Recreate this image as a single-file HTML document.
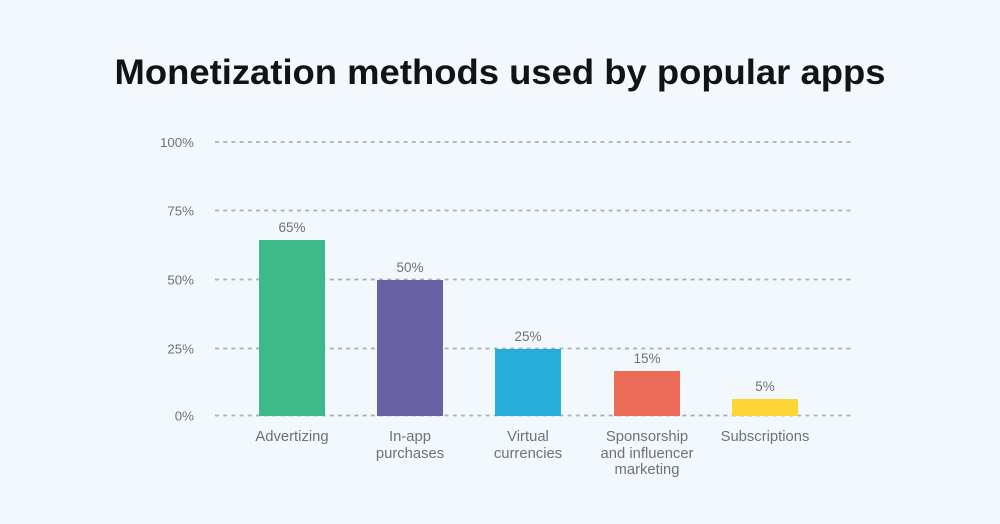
<!DOCTYPE html>
<html>
<head>
<meta charset="utf-8">
<style>
html,body{margin:0;padding:0;background:#f2f8fc;}
svg{display:block;}
</style>
</head>
<body>
<svg width="1000" height="524" viewBox="0 0 1000 524" xmlns="http://www.w3.org/2000/svg">
<rect width="1000" height="524" fill="#f2f8fc"/>
<text x="500" y="84" text-anchor="middle" font-family="Liberation Sans, sans-serif" font-weight="bold" font-size="35" fill="#111315" textLength="771" lengthAdjust="spacingAndGlyphs">Monetization methods used by popular apps</text>
<g stroke="#acaeb0" stroke-width="1.8" stroke-dasharray="4 4.2">
<line x1="215" y1="142" x2="852" y2="142"/>
<line x1="215" y1="210.5" x2="852" y2="210.5"/>
<line x1="215" y1="279.5" x2="852" y2="279.5"/>
<line x1="215" y1="348.5" x2="852" y2="348.5"/>
<line x1="215" y1="415.5" x2="852" y2="415.5"/>
</g>
<g font-family="Liberation Sans, sans-serif" font-size="13.3" fill="#6e7277" text-anchor="end">
<text x="194" y="147">100%</text>
<text x="194" y="215.5">75%</text>
<text x="194" y="284.5">50%</text>
<text x="194" y="353.5">25%</text>
<text x="194" y="420.5">0%</text>
</g>
<rect x="259" y="240" width="66" height="176" fill="#3dba8a"/>
<rect x="377" y="280" width="66" height="136" fill="#6861a4"/>
<rect x="495" y="349" width="66" height="67" fill="#27aedb"/>
<rect x="614" y="371" width="66" height="45" fill="#ec6b59"/>
<rect x="732" y="399" width="66" height="17" fill="#fdd535"/>
<g font-family="Liberation Sans, sans-serif" font-size="13.5" fill="#6e7277" text-anchor="middle">
<text x="292" y="232">65%</text>
<text x="410" y="272">50%</text>
<text x="528" y="341">25%</text>
<text x="647" y="363">15%</text>
<text x="765" y="391">5%</text>
</g>
<g font-family="Liberation Sans, sans-serif" font-size="14.8" fill="#6e7277" text-anchor="middle">
<text x="292" y="441">Advertizing</text>
<text x="410" y="441">In-app</text>
<text x="410" y="458">purchases</text>
<text x="528" y="441">Virtual</text>
<text x="528" y="458">currencies</text>
<text x="647" y="441">Sponsorship</text>
<text x="647" y="458">and influencer</text>
<text x="647" y="474">marketing</text>
<text x="765" y="441">Subscriptions</text>
</g>
</svg>
</body>
</html>
